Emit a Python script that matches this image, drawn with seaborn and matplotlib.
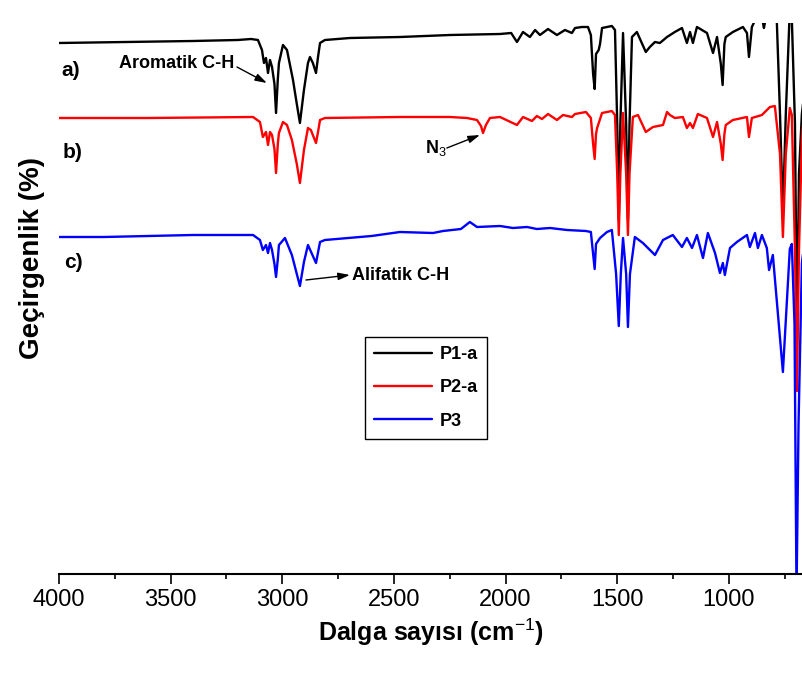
import pandas as pd
import matplotlib
matplotlib.use("Agg")
import matplotlib.pyplot as plt
import seaborn as sns
from matplotlib import font_manager as fm
from matplotlib.ticker import MultipleLocator

# FTIR spektrumlari (dalga sayisi, gecirgenlik a.u.)
p1_wn = [4000, 3700, 3400, 3200, 3140, 3109, 3091, 3082, 3073, 3064, 3055, 3046, 3035, 3028, 3020,
         3015, 2997, 2979, 2952, 2935, 2921, 2903, 2885, 2876, 2863, 2849, 2840, 2831, 2809, 2697,
         2473, 2249, 2025, 1975, 1949, 1922, 1891, 1868, 1846, 1810, 1770, 1734, 1703, 1689, 1658,
         1631, 1618, 1608, 1601, 1595, 1583, 1577, 1568, 1524, 1510, 1500, 1493, 1486, 1474, 1460,
         1452, 1445, 1434, 1412, 1372, 1354, 1331, 1309, 1277, 1242, 1210, 1188, 1174, 1161, 1143,
         1098, 1071, 1053, 1036, 1028, 1020, 1014, 982, 937, 919, 910, 897, 880, 860, 848,
         843, 838, 825, 800, 785, 771, 758, 745, 727, 718, 704, 695, 686, 673, 668]
p1_t = [531, 532, 533, 534, 535, 534, 524, 511, 516, 501, 514, 507, 490, 461, 495,
        511, 529, 524, 494, 470, 451, 484, 511, 517, 511, 501, 517, 531, 534, 536,
        537, 539, 540, 541, 532, 542, 537, 544, 539, 545, 539, 544, 541, 546, 547,
        547, 539, 500, 485, 520, 524, 530, 546, 548, 544, 450, 354, 450, 541, 450,
        354, 450, 537, 542, 522, 527, 532, 531, 537, 542, 546, 531, 542, 531, 547,
        541, 521, 537, 510, 489, 530, 537, 542, 547, 541, 517, 547, 555, 565, 552,
        546, 552, 565, 570, 551, 460, 360, 460, 565, 555, 450, 234, 400, 460, 470]

p2_wn = [4000, 3600, 3131, 3100, 3087, 3073, 3064, 3055, 3046, 3035, 3028, 3020, 3015, 2997, 2979,
         2957, 2935, 2921, 2903, 2885, 2872, 2849, 2840, 2831, 2809, 2473, 2249, 2173, 2128, 2110,
         2101, 2088, 2070, 2025, 1949, 1922, 1882, 1860, 1837, 1810, 1770, 1743, 1703, 1689, 1640,
         1618, 1608, 1601, 1595, 1590, 1568, 1524, 1510, 1500, 1493, 1486, 1474, 1460, 1452, 1445,
         1430, 1407, 1372, 1340, 1295, 1277, 1264, 1242, 1206, 1188, 1174, 1161, 1139, 1098, 1071,
         1053, 1036, 1028, 1020, 1014, 982, 919, 910, 897, 852, 816, 794, 771, 758, 745,
         727, 718, 704, 695, 686, 673, 668]
p2_t = [456, 456, 457, 452, 437, 442, 429, 442, 439, 425, 401, 430, 441, 452, 449,
        434, 410, 391, 424, 446, 444, 431, 442, 454, 456, 457, 457, 456, 454, 448,
        441, 449, 456, 457, 449, 457, 453, 458, 455, 460, 454, 459, 457, 460, 462,
        456, 430, 415, 440, 446, 461, 463, 459, 400, 339, 400, 461, 400, 339, 400,
        457, 459, 442, 447, 449, 462, 459, 456, 457, 446, 451, 446, 460, 456, 437,
        452, 430, 414, 440, 449, 454, 457, 437, 456, 459, 467, 468, 420, 337, 420,
        466, 459, 324, 183, 324, 434, 449]

p3_wn = [4000, 3800, 3400, 3131, 3100, 3087, 3073, 3064, 3055, 3046, 3035, 3028, 3020, 3015, 2988,
         2957, 2935, 2921, 2903, 2885, 2849, 2831, 2809, 2600, 2473, 2325, 2280, 2200, 2160, 2128,
         2025, 1967, 1904, 1860, 1801, 1725, 1640, 1618, 1608, 1601, 1595, 1577, 1546, 1524, 1505,
         1493, 1484, 1474, 1460, 1452, 1443, 1421, 1385, 1331, 1295, 1251, 1210, 1188, 1165, 1143,
         1116, 1094, 1062, 1040, 1027, 1018, 995, 964, 919, 906, 883, 870, 852, 830, 820,
         803, 758, 727, 718, 706, 697, 688, 673, 668]
p3_t = [337, 337, 339, 339, 334, 324, 329, 321, 331, 324, 310, 297, 315, 329, 336,
        319, 300, 288, 312, 329, 311, 332, 334, 338, 342, 341, 343, 345, 352, 347,
        348, 346, 347, 345, 346, 344, 343, 342, 320, 305, 330, 336, 342, 344, 300,
        248, 300, 336, 300, 247, 300, 337, 331, 319, 334, 339, 327, 336, 326, 339,
        316, 341, 321, 301, 311, 299, 326, 332, 339, 327, 341, 326, 339, 326, 304,
        319, 202, 325, 330, 250, -20, 150, 311, 320]

samples = ["P1-a", "P2-a", "P3"]
colors = ["black", "red", "blue"]

df = pd.concat([
    pd.DataFrame({"wn": p1_wn, "T": p1_t, "sample": "P1-a"}),
    pd.DataFrame({"wn": p2_wn, "T": p2_t, "sample": "P2-a"}),
    pd.DataFrame({"wn": p3_wn, "T": p3_t, "sample": "P3"}),
])

sns.set_style("white")
avail = {f.name for f in fm.fontManager.ttflist}
narrow = "Liberation Sans Narrow" if "Liberation Sans Narrow" in avail else "Liberation Sans"
plt.rcParams["font.family"] = ["Liberation Sans", "DejaVu Sans"]
plt.rcParams["mathtext.fontset"] = "custom"
plt.rcParams["mathtext.rm"] = "Liberation Sans"
plt.rcParams["mathtext.bf"] = "Liberation Sans:bold"
plt.rcParams["text.color"] = "black"
plt.rcParams["axes.labelcolor"] = "black"
plt.rcParams["xtick.color"] = "black"

fig = plt.figure(figsize=(8.03, 6.77), dpi=100)
ax = fig.add_axes([59 / 803, 1 - 574 / 677, 744 / 803, 551 / 677])

for s, c in zip(samples, colors):
    sub = df[df["sample"] == s]
    sns.lineplot(x=sub["wn"], y=sub["T"], color=c, lw=1.7, label=s, sort=False,
                 estimator=None, ax=ax)

ax.set_xlim(4000, 668)
ax.set_ylim(0, 551)
ax.set_yticks([])
ax.xaxis.set_major_locator(MultipleLocator(500))
ax.xaxis.set_minor_locator(MultipleLocator(250))
ax.tick_params(axis="x", which="major", direction="out", length=7, width=1.2, pad=4,
               bottom=True, labelsize=17, labelcolor="black")
ax.tick_params(axis="x", which="minor", direction="out", length=3.5, width=1.2, bottom=True)
for lab in ax.get_xticklabels():
    lab.set_family(narrow)

sns.despine(ax=ax, left=True, top=True, right=True)
ax.spines["bottom"].set_linewidth(1.5)
ax.spines["bottom"].set_color("black")

ax.set_xlabel("Dalga sayısı (cm$^{-1}$)", fontsize=18, fontweight="bold", labelpad=4)
ax.set_ylabel("Geçirgenlik (%)", fontsize=20, fontweight="bold")
ax.yaxis.label.set_va("center")
ax.yaxis.set_label_coords(-0.036, 0.573)

# etiketler
for txt, x, y in [("a)", 3991, 504), ("b)", 3982, 421), ("c)", 3978, 311)]:
    ax.text(x, y, txt, fontsize=15, fontweight="bold", ha="left", va="center")

ax.text(3216, 511, "Aromatik C-H", fontsize=13, fontweight="bold", ha="right", va="center")
ax.text(2361, 426, "N$_3$", fontsize=13, fontweight="bold", ha="left", va="center")
ax.text(2688, 298, "Alifatik C-H", fontsize=13, fontweight="bold", ha="left", va="center")

arrow = dict(arrowstyle="-|>,head_length=0.7,head_width=0.22", color="black", lw=1,
             shrinkA=0, shrinkB=0)
ax.annotate("", xy=(3069, 491), xytext=(3203, 507), arrowprops=arrow)
ax.annotate("", xy=(2115, 439), xytext=(2263, 426), arrowprops=arrow)
ax.annotate("", xy=(2697, 299), xytext=(2894, 294), arrowprops=arrow)

leg = ax.legend(loc="upper left", bbox_to_anchor=(0.411, 0.430), borderaxespad=0,
                fancybox=False, edgecolor="black", framealpha=1, handlelength=3.2,
                handletextpad=0.45, labelspacing=0.9, borderpad=0.5,
                prop={"weight": "bold", "size": 13})
leg.get_frame().set_linewidth(1)
for t in leg.get_texts():
    t.set_color("black")

fig.savefig("out.png", dpi=100)
